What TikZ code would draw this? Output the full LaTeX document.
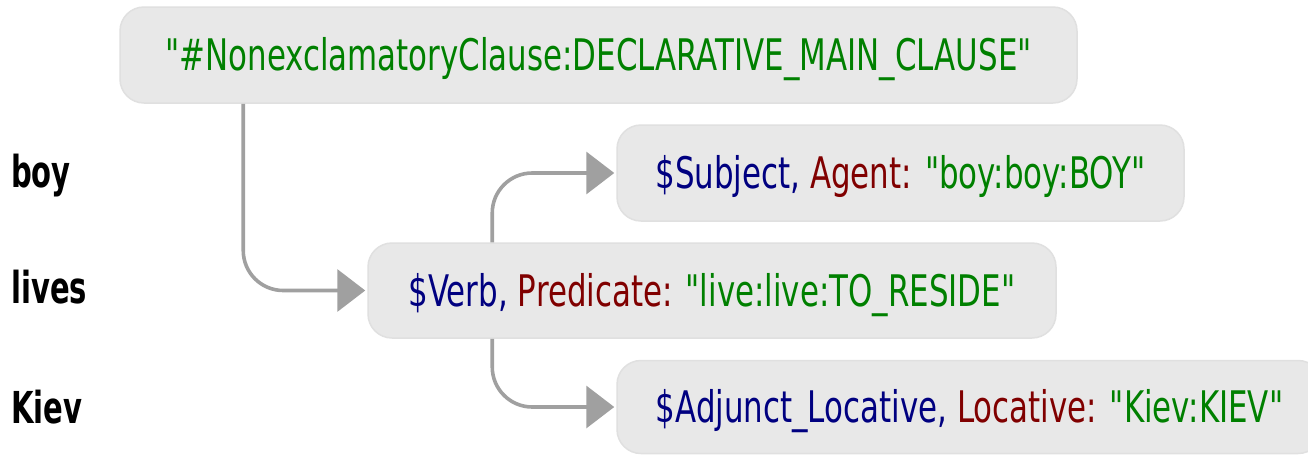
\documentclass[tikz,border=0pt]{standalone}
\usepackage{fontspec}
\setmainfont{DejaVu Sans}[FakeStretch=0.71, Ligatures=TeXOff]
\newfontfamily\lblfont{DejaVu Sans}[FakeStretch=0.66]
\usetikzlibrary{arrows.meta}
\definecolor{boxfill}{HTML}{E8E8E8}
\definecolor{boxline}{HTML}{E0E0E0}
\definecolor{arrowgray}{HTML}{A0A0A0}
\definecolor{vname}{HTML}{000080}
\definecolor{rname}{HTML}{800000}
\definecolor{sval}{HTML}{008000}
\tikzset{
  wbox/.style={draw=boxline, line width=1.5pt, fill=boxfill, rounded corners=24pt,
    inner sep=0pt, text height=31.7pt, text depth=0pt,
    font=\fontsize{43.5}{50}\selectfont},
  wlabel/.style={anchor=base west, inner sep=0pt, font=\lblfont\bfseries\fontsize{44}{50}\selectfont},
  conn/.style={draw=arrowgray, line width=3.6pt, rounded corners=40pt,
    -{Triangle[length=28pt,width=42pt]}}
}
\newcommand{\vn}[1]{\textcolor{vname}{#1}}
\newcommand{\rn}[1]{\textcolor{rname}{#1}}
\newcommand{\sv}[1]{\textcolor{sval}{#1}}
\newcommand{\dq}{\symbol{34}}
\begin{document}
\begin{tikzpicture}[x=1pt,y=-1pt]
\useasboundingbox (0,0) rectangle (1308,456);
\clip (0,0) rectangle (1308,456);
\fill[white] (0,0) rectangle (1308,456);
\node[wbox, minimum width=957pt, minimum height=96pt] (top) at (598.5,55)
  {\sv{\dq\#NonexclamatoryClause:DECLARATIVE\_MAIN\_CLAUSE\dq}};
\node[wbox, minimum width=567pt, minimum height=96pt] (subj) at (900.5,173)
  {\vn{\$Subject,} \rn{Agent:} \sv{\dq boy:boy:BOY\dq}};
\node[wbox, minimum width=688pt, minimum height=95pt] (verb) at (712,290.5)
  {\vn{\$Verb,} \rn{Predicate:} \sv{\dq live:live:TO\_RESIDE\dq}};
\node[wbox, minimum width=705pt, minimum height=93pt] (adj) at (969.5,407)
  {\vn{\$Adjunct\_Locative,} \rn{Locative:} \sv{\dq Kiev:KIEV\dq}};
\node[wlabel] (lboy) at (11,187) {boy};
\node[wlabel] (llives) at (11,303) {lives};
\node[wlabel] (lkiev) at (11,423) {Kiev};
\draw[conn] ([xshift=124pt]top.south west) |- ([xshift=-2pt]verb.west);
\draw[conn] ([xshift=125pt]verb.north west) |- ([xshift=-2pt]subj.west);
\draw[conn] ([xshift=125pt]verb.south west) |- ([xshift=-2pt]adj.west);
\end{tikzpicture}
\end{document}
